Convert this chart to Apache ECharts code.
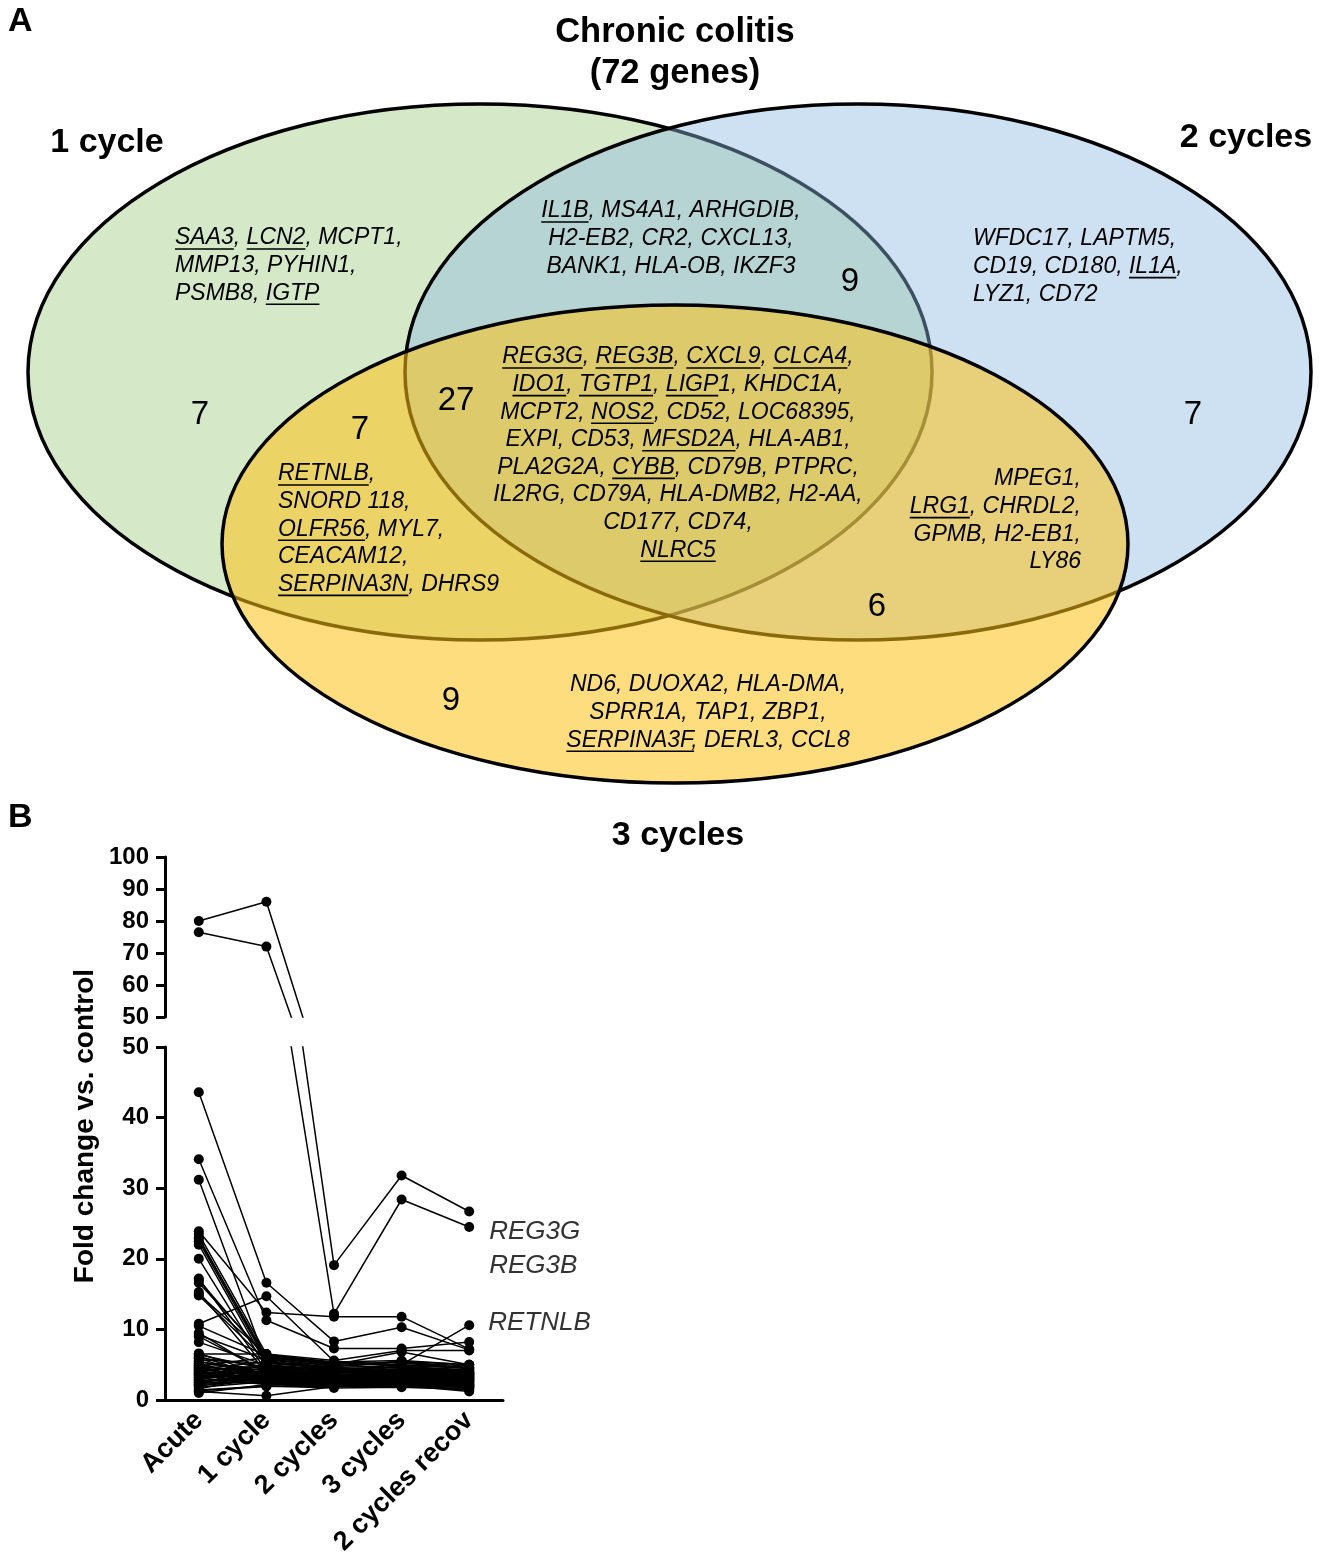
<!DOCTYPE html>
<html><head><meta charset="utf-8">
<script src="https://cdn.jsdelivr.net/npm/echarts@6/dist/echarts.min.js"></script>
<style>html,body{margin:0;padding:0;background:#fff}#c{width:1326px;height:1564px}</style>
</head><body><div id="c"></div>
<script>
// ================= Panel A data (Venn) =================
const panelLabels = ['A', 'B'];
const figureTitle = ['Chronic colitis', '(72 genes)'];
const setNames = ['1 cycle', '2 cycles', '3 cycles'];
// regions: only1, 1&2, only2, 1&2&3, 1&3, 2&3, only3
const regionCounts = [7, 9, 7, 27, 7, 6, 9];
// underscores mark underlined gene names
const genesOnly1 = ['_SAA3_, _LCN2_, MCPT1,', 'MMP13, PYHIN1,', 'PSMB8, _IGTP_'];
const genes1and2 = ['_IL1B_, MS4A1, ARHGDIB,', 'H2-EB2, CR2, CXCL13,', 'BANK1, HLA-OB, IKZF3'];
const genesOnly2 = ['WFDC17, LAPTM5,', 'CD19, CD180, _IL1A_,', 'LYZ1, CD72'];
const genesAll = ['_REG3G_, _REG3B_, _CXCL9_, _CLCA4_,', '_IDO1_, _TGTP1_, _LIGP_1, KHDC1A,',
  'MCPT2, _NOS2_, CD52, LOC68395,', 'EXPI, CD53, _MFSD2A_, HLA-AB1,', 'PLA2G2A, _CYBB_, CD79B, PTPRC,',
  'IL2RG, CD79A, HLA-DMB2, H2-AA,', 'CD177, CD74,', '_NLRC5_'];
const genes1and3 = ['_RETNLB_,', 'SNORD 118,', '_OLFR56_, MYL7,', 'CEACAM12,', '_SERPINA3N_, DHRS9'];
const genes2and3 = ['MPEG1,', '_LRG1_, CHRDL2,', 'GPMB, H2-EB1,', 'LY86'];
const genesOnly3 = ['ND6, DUOXA2, HLA-DMA,', 'SPRR1A, TAP1, ZBP1,', '_SERPINA3F_, DERL3, CCL8'];

// ================= Panel B data (fold change) =================
const timepoints = ['Acute', '1 cycle', '2 cycles', '3 cycles', '2 cycles recov'];
const yAxisTitle = 'Fold change vs. control';
const labeledGenes = ['REG3G', 'REG3B', 'RETNLB'];
const reg3g = [80, 86, 19.1, 31.8, 26.7];
const reg3b = [76.5, 72, 12.2, 28.4, 24.5];
const retnlb = [9.5, 3.8, 3.2, 5.0, 10.6];
const highAcuteGenes = [
  [43.6, 16.6, 8.3, 10.3, 7.1], [34.1, 11.3, 7.3, 7.3, 8.2], [31.2, 5.2, 4.6, 4.2, 3.8],
  [23.9, 12.4, 11.8, 11.8, 7.2], [10.8, 14.7, 5.5, 5.0, 4.6], [23.5, 6.5, 5.0, 6.8, 5.0],
  [23.0, 5.8, 4.8, 5.5, 4.4], [22.5, 5.5, 4.2, 4.0, 3.4], [22.0, 5.0, 3.9, 3.6, 3.1],
  [20.0, 4.6, 3.5, 3.3, 2.8], [17.2, 4.2, 3.3, 3.9, 3.2], [16.6, 6.2, 5.3, 4.8, 4.0],
  [15.3, 3.9, 3.0, 3.1, 2.6], [14.8, 5.6, 4.4, 4.1, 3.6], [9.0, 4.0, 3.6, 3.4, 3.0],
  [8.2, 4.9, 4.2, 4.4, 3.9], [6.6, 3.5, 2.9, 2.8, 2.4], [6.5, 6.5, 5.6, 7.0, 7.0],
  [10.5, 6.3, 5.2, 4.9, 4.5], [9.2, 5.7, 4.9, 4.6, 4.1], [17.0, 5.9, 4.4, 4.3, 3.9],
  [15.0, 6.4, 5.4, 5.6, 5.0], [22.8, 6.1, 5.1, 5.3, 4.8]
];
const midGenes = [
  [6.4, 4.4, 3.7, 3.5, 3.3], [6.2, 3.2, 2.6, 2.9, 2.2], [6.0, 4.7, 4.0, 3.8, 3.5],
  [5.9, 2.9, 2.4, 2.6, 2.0], [5.7, 5.2, 4.5, 4.6, 4.2], [5.5, 3.6, 3.1, 3.2, 2.9],
  [5.4, 4.1, 3.4, 3.0, 2.7], [5.2, 2.7, 2.2, 2.4, 1.9], [5.1, 4.5, 3.8, 4.2, 3.7],
  [5.0, 3.3, 2.8, 2.7, 2.5], [4.9, 6.0, 5.0, 4.5, 4.1], [4.8, 3.7, 3.2, 3.6, 3.4],
  [4.7, 2.5, 2.1, 2.2, 1.8], [4.6, 4.3, 3.9, 5.2, 4.6], [4.5, 3.1, 2.7, 3.0, 2.6],
  [4.4, 5.4, 4.6, 4.0, 3.6], [4.3, 3.4, 3.0, 3.4, 3.1], [4.2, 2.3, 2.0, 2.3, 1.7],
  [4.1, 4.8, 4.1, 3.7, 3.2], [4.0, 3.0, 2.5, 2.5, 2.3], [3.9, 4.0, 3.5, 3.9, 3.5],
  [3.8, 2.8, 2.3, 2.1, 2.1], [3.7, 3.9, 3.3, 3.3, 3.0], [3.6, 5.0, 4.3, 4.7, 4.3]
];
const lowGenes = [
  [3.5, 3.3, 2.9, 2.6, 2.4], [3.4, 2.6, 2.4, 2.8, 2.2], [3.3, 4.2, 3.7, 3.5, 3.3],
  [3.2, 3.6, 3.0, 2.9, 2.7], [3.1, 2.2, 1.9, 2.0, 1.6], [3.0, 3.8, 3.4, 4.0, 3.7],
  [2.9, 4.6, 4.0, 4.3, 3.8], [2.8, 3.1, 2.6, 2.4, 2.1], [2.7, 2.9, 2.8, 3.1, 2.8],
  [2.6, 3.5, 3.1, 3.7, 3.3], [2.5, 2.4, 2.2, 2.5, 2.0], [2.4, 4.1, 3.6, 3.2, 2.9],
  [2.3, 3.2, 2.7, 3.0, 2.6], [2.2, 2.7, 2.5, 2.7, 2.3], [2.1, 5.3, 4.7, 5.5, 5.0],
  [2.0, 3.0, 2.8, 3.5, 3.0], [1.8, 2.6, 2.3, 2.3, 1.9], [1.6, 3.4, 3.2, 4.4, 3.9],
  [1.4, 2.0, 1.7, 1.8, 1.5], [1.2, 0.6, 1.9, 2.1, 1.2], [1.0, 2.2, 2.1, 2.6, 1.8],
  [1.3, 1.9, 2.0, 2.2, 1.4]
];

// ================= layout / styling =================
const FONT = '"Liberation Sans", Arial, Helvetica, sans-serif';
const mctx = document.createElement('canvas').getContext('2d');
function textW(str, size, style, weight) {
  mctx.font = style + ' ' + weight + ' ' + size + 'px ' + FONT;
  return mctx.measureText(str).width;
}
function txt(x, y, text, size, opts) {
  opts = opts || {};
  const align = opts.align || 'center';
  return {
    type: 'text', x: x, y: y, z: 20, rotation: opts.rotation || 0,
    style: {
      text: text, fontSize: size, fontFamily: FONT,
      fontStyle: opts.style || 'normal', fontWeight: opts.weight || 'normal',
      fill: opts.color || '#000',
      align: align, textAlign: align, verticalAlign: 'middle', textVerticalAlign: 'middle'
    }
  };
}

const ellipses = [
  { cx: 480, cy: 372, rx: 452, ry: 268, fill: '#d5e8c8' },
  { cx: 858, cy: 372, rx: 453, ry: 268, fill: 'rgba(142,185,224,0.43)' },
  { cx: 675, cy: 544, rx: 453, ry: 239, fill: 'rgba(253,193,22,0.55)' }
];
const regionGenes = [genesOnly1, genes1and2, genesOnly2, genesAll, genes1and3, genes2and3, genesOnly3];
const regionLayout = [
  { x: 175, y: 238, align: 'left', cx: 200, cy: 415 },
  { x: 671, y: 211, align: 'center', cx: 850, cy: 282 },
  { x: 973, y: 239, align: 'left', cx: 1193, cy: 415 },
  { x: 678, y: 357, align: 'center', cx: 456, cy: 401 },
  { x: 278, y: 474, align: 'left', cx: 360, cy: 430 },
  { x: 1081, y: 479, align: 'right', cx: 877, cy: 607 },
  { x: 708, y: 685, align: 'center', cx: 451, cy: 701 }
];
const GENE_SIZE = 23, LINE_GAP = 27.6;

const elements = [];
ellipses.forEach(function (e, i) {
  elements.push({
    type: 'ellipse', z: 1 + i,
    shape: { cx: e.cx, cy: e.cy, rx: e.rx, ry: e.ry },
    style: { fill: e.fill, stroke: '#000', lineWidth: 3.5 }
  });
});

regionGenes.forEach(function (lines, r) {
  const L = regionLayout[r];
  lines.forEach(function (line, k) {
    const y = L.y + k * LINE_GAP;
    const parts = line.split('_');
    const segs = [];
    parts.forEach(function (p, i) { if (p) segs.push({ t: p, u: i % 2 === 1 }); });
    const plain = segs.map(function (s) { return s.t; }).join('');
    const w = textW(plain, GENE_SIZE, 'italic', 'normal');
    let x0 = L.x;
    if (L.align === 'center') x0 = L.x - w / 2;
    if (L.align === 'right') x0 = L.x - w;
    elements.push(txt(x0, y, plain, GENE_SIZE, { style: 'italic', align: 'left' }));
    let cur = x0;
    segs.forEach(function (s) {
      const sw = textW(s.t, GENE_SIZE, 'italic', 'normal');
      if (s.u) {
        elements.push({ type: 'line', z: 20, shape: { x1: cur, y1: y + 11, x2: cur + sw, y2: y + 11 },
          style: { stroke: '#000', lineWidth: 1.6 } });
      }
      cur += sw;
    });
  });
  elements.push(txt(L.cx, L.cy, String(regionCounts[r]), 33));
});

elements.push(txt(8, 22, panelLabels[0], 34, { weight: 'bold', align: 'left' }));
elements.push(txt(8, 818, panelLabels[1], 34, { weight: 'bold', align: 'left' }));
elements.push(txt(675, 32, figureTitle[0], 34.5, { weight: 'bold' }));
elements.push(txt(675, 73, figureTitle[1], 34.5, { weight: 'bold' }));
elements.push(txt(107, 143, setNames[0], 34, { weight: 'bold' }));
elements.push(txt(1246, 138, setNames[1], 34, { weight: 'bold' }));
elements.push(txt(678, 836, setNames[2], 34, { weight: 'bold' }));
elements.push(txt(85, 1126, yAxisTitle, 28, { weight: 'bold', rotation: Math.PI / 2 }));

// ================= Panel B series =================
const allProfiles = [
  { name: labeledGenes[0], data: reg3g, label: [20, 20] },
  { name: labeledGenes[1], data: reg3b, label: [20, 39] },
  { name: labeledGenes[2], data: retnlb, label: [19, -2] }
];
highAcuteGenes.concat(midGenes, lowGenes).forEach(function (d, i) {
  allProfiles.push({ name: 'g' + i, data: d });
});

const series = [];
allProfiles.forEach(function (p) {
  const base = {
    type: 'line', name: p.name, data: p.data, symbol: 'circle', symbolSize: 10,
    lineStyle: { color: '#000', width: 1.5 }, itemStyle: { color: '#000' },
    clip: true, silent: true, animation: false, z: 3
  };
  if (Math.max.apply(null, p.data) > 50) {
    series.push(Object.assign({}, base, { xAxisIndex: 0, yAxisIndex: 0 }));
  }
  const s = Object.assign({}, base, { xAxisIndex: 1, yAxisIndex: 1 });
  if (p.label) {
    s.endLabel = { show: true, formatter: p.name, distance: 0, offset: p.label,
      fontSize: 26, fontStyle: 'italic', fontFamily: FONT, color: '#333' };
  }
  series.push(s);
});

const yAxisCommon = {
  type: 'value', interval: 10,
  axisLine: { show: true, lineStyle: { color: '#000', width: 3 } },
  axisTick: { show: true, length: 9, lineStyle: { color: '#000', width: 3 } },
  axisLabel: { fontSize: 24, fontWeight: 'bold', color: '#000', fontFamily: FONT, margin: 16 },
  splitLine: { show: false }
};

const option = {
  backgroundColor: '#fff',
  animation: false,
  graphic: { elements: elements },
  grid: [
    { left: 165, top: 857, width: 338, height: 160, outerBoundsMode: 'none' },
    { left: 165, top: 1047, width: 338, height: 353, outerBoundsMode: 'none' }
  ],
  xAxis: [
    { type: 'category', gridIndex: 0, data: timepoints, boundaryGap: true, show: false },
    { type: 'category', gridIndex: 1, data: timepoints, boundaryGap: true,
      axisLine: { lineStyle: { color: '#000', width: 3 } },
      axisTick: { alignWithLabel: true, length: 10, lineStyle: { color: '#000', width: 3 } },
      axisLabel: { rotate: 45, interval: 0, fontSize: 27, fontWeight: 'bold', color: '#000', fontFamily: FONT, margin: 16 } }
  ],
  yAxis: [
    Object.assign({}, yAxisCommon, { gridIndex: 0, min: 50, max: 100 }),
    Object.assign({}, yAxisCommon, { gridIndex: 1, min: 0, max: 50 })
  ],
  series: series
};

const chart = echarts.init(document.getElementById('c'), null, { renderer: 'canvas' });
chart.setOption(option);
</script></body></html>
